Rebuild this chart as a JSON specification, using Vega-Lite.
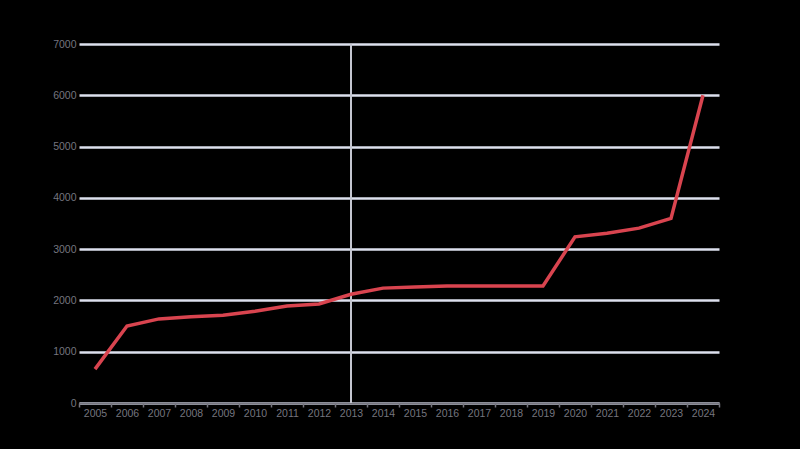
{
  "$schema": "https://vega.github.io/schema/vega-lite/v6.json",
  "width": 640,
  "height": 359,
  "padding": {"left": 79, "top": 44, "right": 81, "bottom": 46},
  "autosize": {"type": "none"},
  "background": "#000000",
  "config": {"view": {"stroke": null}, "font": "Liberation Sans"},
  "data": {"values": [
    {"year": "2005", "value": 660},
    {"year": "2006", "value": 1500},
    {"year": "2007", "value": 1640},
    {"year": "2008", "value": 1680},
    {"year": "2009", "value": 1710},
    {"year": "2010", "value": 1790},
    {"year": "2011", "value": 1890},
    {"year": "2012", "value": 1930},
    {"year": "2013", "value": 2120},
    {"year": "2014", "value": 2240},
    {"year": "2015", "value": 2260},
    {"year": "2016", "value": 2280},
    {"year": "2017", "value": 2280},
    {"year": "2018", "value": 2280},
    {"year": "2019", "value": 2280},
    {"year": "2020", "value": 3240},
    {"year": "2021", "value": 3310},
    {"year": "2022", "value": 3410},
    {"year": "2023", "value": 3600},
    {"year": "2024", "value": 6000}
  ]},
  "encoding": {
    "x": {
      "field": "year", "type": "ordinal", "title": null,
      "scale": {"type": "band", "paddingInner": 0, "paddingOuter": 0},
      "axis": {"labelAngle": 0, "labelFontSize": 10.5, "labelColor": "#75757f", "domainColor": "#75757f", "domainWidth": 2, "tickColor": "#75757f", "tickSize": 4, "tickWidth": 1.5, "tickBand": "extent", "grid": false, "labelPadding": 1}
    }
  },
  "layer": [
    {
      "mark": {"type": "rule", "color": "#c4c6d0", "strokeWidth": 2},
      "transform": [{"filter": "datum.year == '2013'"}],
      "encoding": {}
    },
    {
      "mark": {"type": "line", "color": "#d9444f", "strokeWidth": 3.5},
      "encoding": {
        "y": {
          "field": "value", "type": "quantitative", "title": null,
          "scale": {"domain": [0, 7000]},
          "axis": {"values": [0,1000,2000,3000,4000,5000,6000,7000], "format": "d", "labelFontSize": 10.5, "labelColor": "#75757f", "domain": false, "ticks": false, "gridColor": "#dde0ee", "gridWidth": 2.5, "labelPadding": 3}
        }
      }
    }
  ]
}
